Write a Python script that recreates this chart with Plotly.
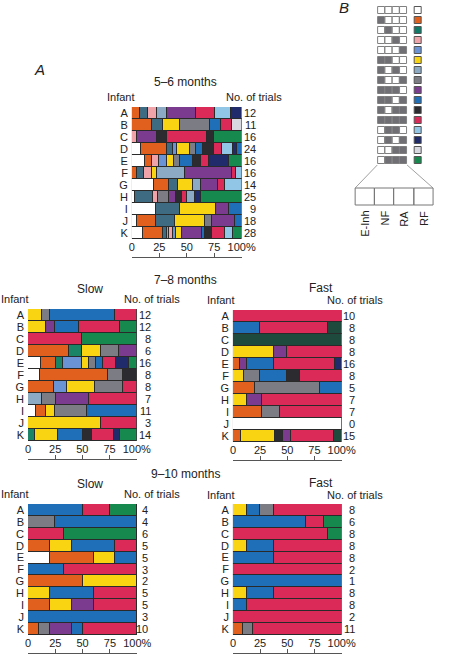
import plotly.graph_objects as go

W, H = 449, 655
FONT = "Liberation Sans"
TXT = "#222222"
EDGE = "#2a2a2a"

infants = list("ABCDEFGHIJK")
tick_vals = [0, 25, 50, 75, 100]
tick_text = ["0", "25", "50", "75", "100%"]

COLORS = {
    "W": "#ffffff", "O": "#e2601e", "T": "#1a8466", "SL": "#3f6b82",
    "P": "#f0a3a8", "C": "#6a93d6", "Y": "#f9d412", "S": "#8daac4",
    "G": "#7b7c84", "U": "#7b3b8e", "B": "#1e6fb8", "K": "#2b2b30",
    "R": "#dc2a58", "L": "#92c6e6", "N": "#1f2b6b", "V": "#d8d8e0",
    "D": "#168a4e", "DG": "#1d4a3c",
}

# ---- data: (behaviour code, % of trials) per infant ----
m56 = [
    [("O", 7), ("SL", 8), ("P", 8), ("S", 9), ("U", 26), ("R", 18), ("L", 14), ("N", 10)],
    [("O", 18), ("SL", 10), ("Y", 16), ("G", 27), ("B", 10), ("R", 10), ("V", 9)],
    [("P", 5), ("U", 18), ("K", 9), ("R", 36), ("K", 7), ("D", 25)],
    [("W", 8), ("O", 24), ("SL", 5), ("C", 4), ("Y", 12), ("G", 5), ("B", 7), ("K", 10), ("R", 7), ("L", 10), ("N", 4), ("B", 4)],
    [("W", 12), ("O", 6), ("P", 7), ("C", 7), ("Y", 6), ("G", 6), ("B", 12), ("K", 7), ("R", 7), ("N", 18), ("D", 12)],
    [("O", 5), ("SL", 6), ("P", 7), ("Y", 5), ("S", 25), ("U", 43), ("R", 4), ("L", 5)],
    [("W", 20), ("O", 14), ("SL", 8), ("Y", 14), ("S", 7), ("U", 15), ("R", 7), ("L", 15)],
    [("W", 3), ("SL", 16), ("P", 5), ("G", 10), ("U", 6), ("K", 6), ("R", 4), ("S", 7), ("N", 6), ("D", 37)],
    [("W", 22), ("SL", 22), ("Y", 33), ("U", 11.5), ("B", 11.5)],
    [("W", 5), ("O", 17), ("SL", 17), ("Y", 28), ("G", 6), ("U", 21), ("B", 6)],
    [("W", 10), ("O", 18), ("SL", 4), ("S", 2), ("P", 3), ("C", 3), ("Y", 6), ("U", 18), ("B", 3), ("K", 6), ("R", 12), ("L", 7), ("D", 8)],
]
trials_m56 = [12, 11, 16, 24, 16, 16, 14, 25, 9, 18, 28]

slow78 = [
    [("Y", 13), ("G", 7), ("B", 60), ("R", 20)],
    [("Y", 17), ("U", 8), ("B", 22), ("R", 38), ("D", 15)],
    [("R", 50), ("D", 50)],
    [("O", 38), ("T", 12), ("Y", 17), ("G", 17), ("U", 16)],
    [("W", 12), ("O", 14), ("T", 6), ("C", 18), ("Y", 6), ("G", 7), ("B", 6), ("R", 12), ("N", 12), ("D", 7)],
    [("W", 11), ("O", 63), ("G", 13), ("K", 13)],
    [("O", 24), ("C", 12), ("Y", 26), ("G", 25), ("R", 13)],
    [("S", 13), ("G", 13), ("U", 30), ("R", 44)],
    [("W", 7), ("O", 10), ("Y", 8), ("G", 29), ("B", 46)],
    [("Y", 67), ("R", 33)],
    [("T", 6), ("Y", 22), ("B", 23), ("K", 8), ("R", 20), ("N", 6), ("D", 15)],
]
trials_slow78 = [12, 12, 8, 6, 16, 8, 8, 7, 11, 3, 14]

fast78 = [
    [("R", 100)],
    [("B", 25), ("R", 62.5), ("DG", 12.5)],
    [("DG", 100)],
    [("Y", 37.5), ("U", 12.5), ("R", 50)],
    [("O", 6.25), ("U", 6.25), ("B", 25), ("R", 56.25), ("N", 6.25)],
    [("Y", 10.5), ("G", 14), ("B", 25), ("K", 12), ("R", 38.5)],
    [("O", 20), ("G", 60), ("B", 20)],
    [("Y", 13), ("U", 14), ("R", 73)],
    [("O", 27), ("G", 16), ("R", 57)],
    [("W", 100)],
    [("O", 7), ("Y", 32), ("K", 7), ("U", 7), ("R", 40), ("DG", 7)],
]
trials_fast78 = [10, 8, 8, 8, 16, 8, 5, 7, 7, 0, 15]

slow910 = [
    [("B", 50), ("R", 25), ("D", 25)],
    [("G", 25), ("B", 75)],
    [("R", 33.3), ("D", 66.7)],
    [("O", 20), ("Y", 20), ("B", 40), ("R", 20)],
    [("W", 20), ("O", 40), ("Y", 20), ("B", 20)],
    [("B", 33.3), ("R", 66.7)],
    [("O", 50), ("Y", 50)],
    [("Y", 20), ("B", 40), ("R", 40)],
    [("O", 20), ("Y", 20), ("U", 20), ("R", 40)],
    [("B", 100)],
    [("O", 10), ("G", 10), ("U", 20), ("B", 10), ("R", 50)],
]
trials_slow910 = [4, 4, 6, 5, 5, 3, 2, 5, 5, 3, 10]

fast910 = [
    [("Y", 12.5), ("B", 12.5), ("G", 12.5), ("R", 62.5)],
    [("B", 66.7), ("R", 16.7), ("D", 16.6)],
    [("R", 87.5), ("D", 12.5)],
    [("Y", 12.5), ("B", 25), ("R", 62.5)],
    [("B", 37.5), ("R", 62.5)],
    [("R", 100)],
    [("B", 100)],
    [("Y", 12.5), ("B", 25), ("R", 62.5)],
    [("B", 12.5), ("R", 87.5)],
    [("R", 100)],
    [("O", 9.1), ("G", 9.1), ("R", 81.8)],
]
trials_fast910 = [8, 6, 8, 8, 8, 2, 1, 8, 8, 2, 11]

# legend (panel B): behaviour code and which of E-Inh, NF, RA, RF are active
legend_codes = ["W", "O", "T", "P", "C", "Y", "S", "G", "U", "B", "K", "R", "L", "N", "V", "D"]
legend_pattern = ["0000", "1000", "0100", "0010", "0001", "1100", "1010", "1001",
                  "1110", "1101", "1011", "1111", "0110", "0101", "0011", "0111"]
legend_swatch = {"T": "#0f7a68"}
afferents = ["E-Inh", "NF", "RA", "RF"]


def px(x):
    return x / W


def py(y):
    return 1 - y / H


panels = [
    dict(rows=m56, trials=trials_m56, x0=134, x1=248, y0=107, y1=239, line_y=257, num_right=264),
    dict(rows=slow78, trials=trials_slow78, x0=26, x1=139, y0=309, y1=441, line_y=459, num_right=155),
    dict(rows=fast78, trials=trials_fast78, x0=239, x1=352, y0=310, y1=442, line_y=460, num_right=367),
    dict(rows=slow910, trials=trials_slow910, x0=26, x1=139.5, y0=504, y1=635, line_y=653, num_right=152),
    dict(rows=fast910, trials=trials_fast910, x0=239, x1=352, y0=504, y1=635, line_y=653, num_right=367),
]

fig = go.Figure()
layout = {}
annotations = []
shapes = []
tfont = dict(family=FONT, size=11, color=TXT)

for i, p in enumerate(panels):
    n = i + 1
    xa = "x" if n == 1 else f"x{n}"
    ya = "y" if n == 1 else f"y{n}"
    xkey = "xaxis" if n == 1 else f"xaxis{n}"
    ykey = "yaxis" if n == 1 else f"yaxis{n}"
    rows = p["rows"]
    nseg = max(len(r) for r in rows)
    for k in range(nseg):
        xs = [r[k][1] if k < len(r) else None for r in rows]
        cs = [COLORS[r[k][0]] if k < len(r) else "rgba(0,0,0,0)" for r in rows]
        fig.add_trace(go.Bar(orientation="h", y=infants, x=xs, xaxis=xa, yaxis=ya,
                             marker=dict(color=cs, line=dict(color=EDGE, width=1)),
                             showlegend=False, hoverinfo="skip"))
    layout[xkey] = dict(domain=[px(p["x0"]), px(p["x1"])], range=[0, 100], anchor=ya,
                        tickmode="array", tickvals=tick_vals, ticktext=tick_text, ticks="",
                        showline=False, showgrid=False, zeroline=False, tickfont=tfont,
                        fixedrange=True)
    layout[ykey] = dict(domain=[py(p["y1"]), py(p["y0"])], anchor=xa, type="category",
                        categoryorder="array", categoryarray=infants, range=[10.5, -0.5],
                        tickmode="array", tickvals=infants, ticktext=infants,
                        showgrid=False, zeroline=False, ticks="", showline=False,
                        tickfont=tfont, ticklabelstandoff=3, fixedrange=True)
    # axis line with upward ticks below the labels
    ov = n + 5
    layout[f"xaxis{ov}"] = dict(overlaying=xa, anchor="free", position=py(p["line_y"]),
                                range=[0, 100], showline=True, linecolor="#555", linewidth=1,
                                ticks="inside", ticklen=4, tickwidth=1, tickcolor="#555",
                                tickmode="array", tickvals=tick_vals, showticklabels=False,
                                showgrid=False, zeroline=False, fixedrange=True)
    fig.add_trace(go.Scatter(x=[0, 100], y=[infants[0], infants[0]], xaxis=f"x{ov}", yaxis=ya,
                             mode="markers", marker=dict(opacity=0), showlegend=False,
                             hoverinfo="skip"))
    for inf, nt in zip(infants, p["trials"]):
        annotations.append(dict(xref=f"{xa} domain", yref=ya, x=1, y=inf, text=str(nt),
                                showarrow=False, xanchor="right",
                                xshift=p["num_right"] - p["x1"], font=tfont))

# ---- panel B legend grid ----
bx = "x11"
by = "y11"
layout["xaxis11"] = dict(domain=[px(385), px(440)], range=[(385 - 393) / 7.6, (440 - 393) / 7.6],
                         anchor=by, visible=False, fixedrange=True)
layout["yaxis11"] = dict(domain=[py(170), py(0)], range=[16, -1], anchor=bx, visible=False,
                         fixedrange=True)
cx, cy, cc = [], [], []
for r, pat in enumerate(legend_pattern):
    for c, bit in enumerate(pat):
        cx.append(c)
        cy.append(r)
        cc.append("#6f6f74" if bit == "1" else "#ffffff")
fig.add_trace(go.Scatter(x=cx, y=cy, xaxis=bx, yaxis=by, mode="markers",
                         marker=dict(symbol="square", size=7, color=cc,
                                     line=dict(color="#808080", width=1)),
                         showlegend=False, hoverinfo="skip"))
fig.add_trace(go.Scatter(x=[5] * len(legend_codes), y=list(range(len(legend_codes))),
                         xaxis=bx, yaxis=by, mode="markers",
                         marker=dict(symbol="square", size=7,
                                     color=[legend_swatch.get(c, COLORS[c]) for c in legend_codes],
                                     line=dict(color="#555", width=1)),
                         showlegend=False, hoverinfo="skip"))

# expanded cell diagram
box_edges = [366, 386, 406, 427, 447]
for a, b in zip(box_edges[:-1], box_edges[1:]):
    shapes.append(dict(type="rect", xref="paper", yref="paper", x0=px(a), x1=px(b),
                       y0=py(205), y1=py(188), line=dict(color="#777", width=1)))
shapes.append(dict(type="line", xref="paper", yref="paper", x0=px(389), y0=py(165),
                   x1=px(366), y1=py(188), line=dict(color="#888", width=0.8)))
shapes.append(dict(type="line", xref="paper", yref="paper", x0=px(420), y0=py(165),
                   x1=px(447), y1=py(188), line=dict(color="#888", width=0.8)))
for lab, a, b in zip(afferents, box_edges[:-1], box_edges[1:]):
    annotations.append(dict(xref="paper", yref="paper", x=px((a + b) / 2), y=py(209), text=lab,
                            textangle=-90, showarrow=False, xanchor="center", yanchor="top",
                            font=tfont))

# ---- headings ----
def label(text, x, y, size=11, anchor="center", italic=False):
    t = f"<i>{text}</i>" if italic else text
    annotations.append(dict(xref="paper", yref="paper", x=px(x), y=py(y), text=t,
                            showarrow=False, xanchor=anchor, yanchor="middle",
                            font=dict(family=FONT, size=size, color=TXT)))

label("A", 38, 70, size=15, italic=True)
label("B", 354, 8, size=15, italic=True)
label("5–6 months", 190, 82, size=12)
label("Infant", 139, 97, anchor="right")
label("No. of trials", 230, 97, anchor="left")

label("7–8 months", 190, 280, size=12)
label("Slow", 90, 289, size=12)
label("Fast", 330, 288, size=12)
label("Infant", 29, 299, anchor="right")
label("No. of trials", 124, 299, anchor="left")
label("Infant", 243, 300, anchor="right")
label("No. of trials", 335, 300, anchor="left")

label("9–10 months", 190, 474, size=12)
label("Slow", 90, 484, size=12)
label("Fast", 330, 483, size=12)
label("Infant", 29, 494, anchor="right")
label("No. of trials", 124, 494, anchor="left")
label("Infant", 243, 495, anchor="right")
label("No. of trials", 335, 495, anchor="left")

fig.update_layout(width=W, height=H, margin=dict(l=0, r=0, t=0, b=0),
                  paper_bgcolor="white", plot_bgcolor="rgba(0,0,0,0)",
                  barmode="stack", bargap=0, showlegend=False,
                  font=dict(family=FONT, size=11, color=TXT),
                  annotations=annotations, shapes=shapes, **layout)
fig.write_html("out.html", config={"displayModeBar": False},
               post_script="document.body.style.margin='0px';")
